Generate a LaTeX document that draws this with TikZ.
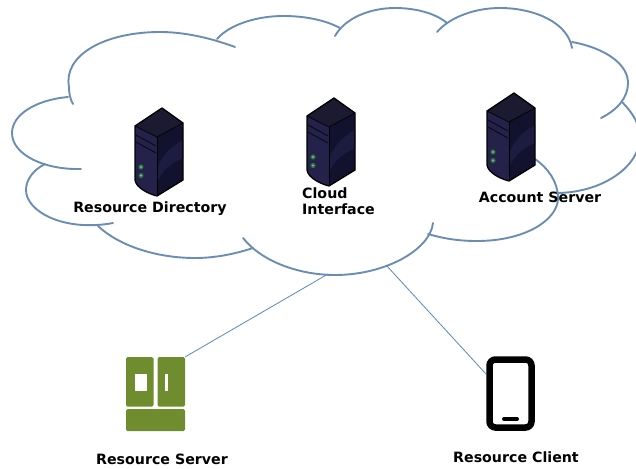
\documentclass[tikz,border=0pt]{standalone}
\usepackage{fontspec}
\setmainfont{DejaVu Sans}
\definecolor{cloudblue}{HTML}{6B8DB3}
\definecolor{linkblue}{HTML}{5B86BE}
\definecolor{fridgegreen}{HTML}{6F8C2F}
\definecolor{srvfront}{HTML}{24224A}
\definecolor{srvtop}{HTML}{1C1A30}
\definecolor{srvside}{HTML}{12112E}
\definecolor{srvshine}{HTML}{1C1B40}
\definecolor{srvring}{HTML}{2F6F45}
\definecolor{srvled}{HTML}{7CC08A}
\tikzset{
  cloudarc/.style={draw=cloudblue,line width=1.9pt,line cap=round},
  lbl/.style={font=\bfseries\fontsize{14.2pt}{16pt}\selectfont,inner sep=0pt,text=black},
  link/.style={draw=linkblue,line width=0.8pt},
  iconbox/.style={inner sep=0pt,outer sep=0pt,rectangle},
  pics/srv/.style={code={
    \fill[srvfront] (-27,18) -- (-5,29) -- (-5,88) .. controls (-13,86) and (-26,80) .. (-27,72) -- cycle;
    \fill[srvside] (-5,29) -- (21,15) -- (21,72) -- (-5,88) -- cycle;
    \fill[srvshine] (-5,60) .. controls (2,45) and (10,38) .. (21,32) -- (21,50) .. controls (10,55) and (0,62) .. (-5,75) -- cycle;
    \fill[srvtop] (0,0) -- (21,15) -- (-5,29) -- (-27,18) -- cycle;
    \draw[black!70!srvfront,line width=1pt] (-26,27) -- (-6,38);
    \draw[black!70!srvfront,line width=1pt] (-26,34) -- (-6,45);
    \draw[black,line width=1.3pt,line join=round] (0,0) -- (21,15) -- (21,72) -- (-5,88) .. controls (-13,86) and (-26,80) .. (-27,72) -- (-27,18) -- cycle;
    \draw[black,line width=0.8pt] (-27,18) -- (-5,29) -- (21,15);
    \draw[black,line width=0.8pt] (-5,29) -- (-5,88);
    \fill[srvring] (-21,59) circle (2.6);
    \fill[srvring] (-21,67.5) circle (2.6);
    \fill[srvled] (-21,59) circle (1.2);
    \fill[srvled] (-21,67.5) circle (1.2);
  }}
}
\begin{document}
\begin{tikzpicture}[x=1pt,y=-1pt]
\useasboundingbox (0,0) rectangle (636,468);
\begin{scope}
\clip (0,0) rectangle (636,468);
\draw[cloudarc] (235,47) .. controls (205,36) and (180,32) .. (160,32) .. controls (105,32) and (63,55) .. (69,87) .. controls (69,93) and (70,99) .. (73,104);
\draw[cloudarc] (68,97) .. controls (35,100) and (12,115) .. (12,133) .. controls (12,155) and (45,170) .. (81,169);
\draw[cloudarc] (45,164) .. controls (33,170) and (26,180) .. (26,190) .. controls (26,212) and (65,232) .. (113,223);
\draw[cloudarc] (98,226) .. controls (118,245) and (155,258) .. (195,258) .. controls (215,258) and (235,254) .. (253,248);
\draw[cloudarc] (243,238) .. controls (262,262) and (300,275) .. (335,275) .. controls (385,275) and (430,250) .. (433,223);
\draw[cloudarc] (428,234) .. controls (445,239) and (460,241) .. (477,241) .. controls (525,241) and (558,220) .. (558,198) .. controls (558,182) and (548,168) .. (535,159);
\draw[cloudarc] (622,102) .. controls (633,113) and (640,125) .. (640,137) .. controls (640,165) and (605,192) .. (558,193);
\draw[cloudarc] (572,42) .. controls (605,48) and (628,64) .. (628,83) .. controls (628,98) and (617,110) .. (601,118);
\draw[cloudarc] (437,32) .. controls (450,17) and (475,8) .. (500,8) .. controls (535,8) and (568,23) .. (572,48);
\draw[cloudarc] (335,36) .. controls (345,18) and (370,8) .. (395,8) .. controls (415,8) and (435,13) .. (447,23);
\draw[cloudarc] (217,39) .. controls (230,24) and (258,16) .. (283,16) .. controls (305,16) and (325,20) .. (340,28);
\end{scope}

\pic at (162,108) {srv};
\pic at (334,98) {srv};
\pic at (514,93) {srv};

\node[lbl] (rd) at (150,209) {Resource Directory};
\node[lbl,align=left,anchor=west] (ci) at (302,201) {Cloud\\Interface};
\node[lbl] (as) at (540,197) {Account Server};
\node[lbl] (rs) at (162,459) {Resource Server};
\node[lbl] (rc) at (516,457) {Resource Client};

% fridge
\node[iconbox,minimum width=59pt,minimum height=74pt] (fridge) at (155.5,394) {};
\fill[fridgegreen,rounded corners=1.5pt] (126,357) rectangle (153.5,406.5);
\fill[fridgegreen,rounded corners=1.5pt] (157.5,357) rectangle (185,406.5);
\fill[fridgegreen,rounded corners=1.5pt] (126,409) rectangle (185,431);
\fill[white] (135,374) rectangle (147,391);
\fill[white] (165,374) rectangle (168,391);

% phone
\node[iconbox,minimum width=49pt,minimum height=75pt] (phone) at (510.5,393.5) {};
\draw[black,line width=6.5pt,rounded corners=6pt] (489.5,359.5) rectangle (531.5,427.5);
\draw[black,line width=4pt,line cap=round] (504,419) -- (517,419);

\coordinate (cloudA) at (328,274);
\coordinate (cloudB) at (386,265);
\draw[link] (cloudA) -- (fridge.north east);
\draw[link] (cloudB) -- (phone.west |- 0,374);
\end{tikzpicture}
\end{document}
